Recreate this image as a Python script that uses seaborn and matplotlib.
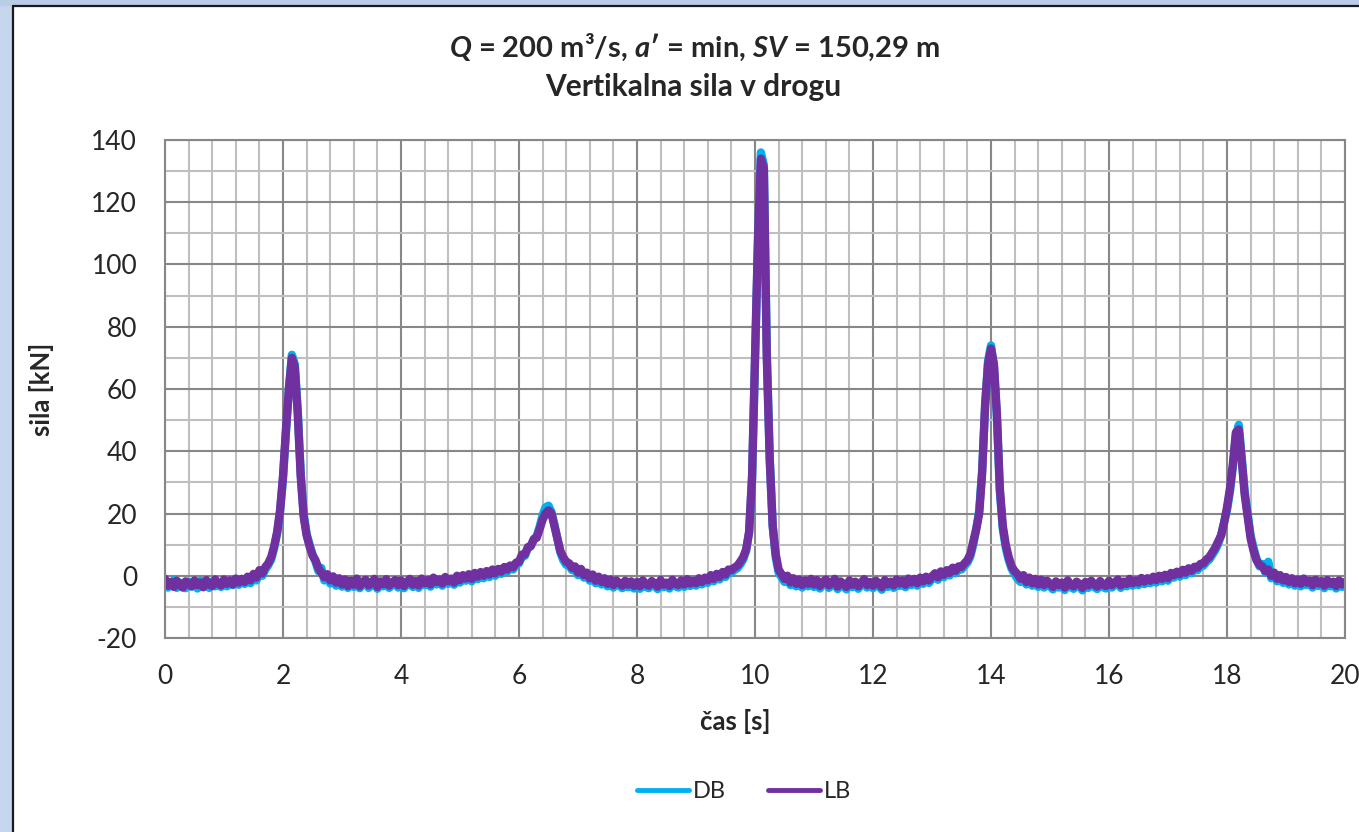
# Vertikalna sila v drogu - DB in LB

import numpy as np
import pandas as pd
import seaborn as sns
import matplotlib.pyplot as plt
from matplotlib.patches import Rectangle
from matplotlib.lines import Line2D
from matplotlib.ticker import MultipleLocator

# čas vzorčenja (0.05 s)
cas = np.linspace(0, 20, 401)

# sila LB [kN], odčitano po 1 s na vrstico
sila_lb = [
    -1.0, -3.2, -2.0, -3.6, -1.6, -2.9, -3.8, -1.8, -2.6, -3.4, -1.5, -3.0, -2.2, -3.7, -1.4, -2.8, -3.3, -1.2, -2.5, -3.1,
    -1.2, -2.6, -1.5, -2.8, -0.9, -2.2, -1.0, -2.0, -0.3, -1.5, 0.6, -0.6, 1.8, 0.8, 2.8, 4.0, 6.0, 9.5, 14.0, 21.0,
    32.0, 47.0, 60.0, 70.0, 67.0, 52.0, 32.0, 19.0, 13.0, 9.5, 6.5, 5.0, 2.5, 1.0, -0.5, 0.5, -1.5, -0.2, -2.2, -0.8,
    -2.8, -1.2, -3.3, -1.6, -2.9, -0.9, -3.4, -2.0, -1.3, -3.1, -2.4, -1.0, -3.6, -1.8, -2.7, -1.1, -3.2, -2.3, -1.4, -3.0,
    -1.5, -3.3, -2.0, -1.0, -2.9, -1.7, -3.1, -0.9, -2.4, -1.4, -2.8, -0.6, -2.0, -1.2, -2.5, -0.4, -1.8, -0.9, -2.2, 0.0,
    -1.4, 0.2, -0.9, 0.5, -1.0, 0.9, -0.3, 1.2, 0.0, 1.5, 0.4, 2.0, 0.8, 2.2, 1.3, 2.8, 2.0, 3.3, 2.7, 4.2,
    4.5, 6.8, 6.9, 9.2, 9.5, 11.8, 12.2, 15.0, 18.0, 20.0, 21.0, 20.0, 16.0, 12.0, 8.0, 6.0, 4.5, 4.0, 2.5, 3.0,
    1.0, 2.2, 0.2, 1.0, -0.8, 0.4, -1.6, -0.3, -2.0, -0.8, -2.6, -1.2, -3.0, -1.5, -2.4, -3.2, -1.6, -2.9, -1.8, -3.3,
    -2.0, -3.4, -1.5, -2.8, -3.2, -1.7, -2.5, -3.5, -1.4, -2.9, -2.2, -3.3, -1.3, -2.6, -3.0, -1.5, -2.8, -1.1, -2.5, -1.6,
    -2.4, -0.8, -2.0, -0.6, -1.5, 0.2, -1.0, 0.6, -0.4, 1.2, 0.4, 2.0, 1.8, 2.6, 3.2, 4.5, 6.0, 8.5, 14.0, 32.0,
    70.0, 108.0, 134.0, 131.0, 70.0, 37.0, 16.0, 7.0, 2.0, 0.5, -1.0, 0.0, -2.2, -0.8, -2.6, -1.2, -3.0, -1.5, -2.6, -1.0,
    -2.8, -1.4, -3.3, -2.0, -1.2, -3.1, -2.4, -1.0, -3.5, -1.8, -2.7, -3.6, -1.5, -2.9, -1.9, -3.4, -2.2, -1.1, -3.0, -2.0,
    -3.2, -1.6, -2.6, -3.7, -1.4, -2.8, -1.9, -3.1, -1.2, -2.5, -1.5, -2.9, -0.9, -2.2, -1.0, -2.4, -0.6, -1.8, -0.3, -1.5,
    -0.2, 0.8, -0.5, 1.4, 0.3, 1.8, 0.9, 2.6, 1.6, 3.0, 2.8, 4.0, 5.0, 7.0, 11.0, 15.0, 20.0, 33.0, 55.0, 68.0,
    73.0, 68.0, 52.0, 28.0, 16.0, 10.0, 6.0, 3.0, 1.5, 0.5, -1.0, 0.2, -2.0, -0.6, -2.4, -1.0, -2.8, -1.3, -3.0, -1.6,
    -2.6, -3.6, -1.8, -3.0, -2.2, -3.8, -1.5, -2.9, -3.4, -1.9, -2.6, -3.9, -2.0, -3.1, -1.6, -2.8, -3.5, -1.7, -2.9, -3.3,
    -1.6, -3.0, -2.2, -1.2, -3.1, -1.9, -2.6, -1.0, -2.4, -1.5, -2.2, -0.7, -1.9, -0.8, -1.6, -0.3, -1.4, 0.0, -1.0, 0.3,
    -0.8, 0.9, 0.2, 1.3, 0.5, 1.9, 1.0, 2.4, 1.6, 2.9, 2.6, 3.8, 4.0, 5.2, 6.0, 7.5, 9.0, 11.0, 13.0, 17.0,
    22.0, 28.0, 36.0, 46.0, 47.0, 37.0, 26.0, 19.0, 12.0, 8.0, 5.0, 3.5, 3.0, 1.5, 2.0, 0.0, 1.0, -1.0, 0.2, -1.5,
    -0.4, -2.0, -0.8, -2.4, -1.2, -2.6, -0.9, -2.2, -1.6, -3.0, -1.3, -2.5, -1.7, -3.2, -1.4, -2.6, -1.9, -3.3, -1.5, -2.8,
    -2.0,
]

# sila DB [kN]
sila_db = [
    -2.0, -3.8, -2.6, -1.4, -3.9, -2.2, -3.3, -4.0, -1.9, -3.5, -2.8, -4.1, -1.6, -3.2, -2.4, -3.9, -1.9, -3.4, -2.8, -3.6,
    -1.8, -3.4, -2.2, -3.0, -1.6, -2.9, -1.4, -2.6, -0.8, -2.4, 0.0, -1.5, 0.8, 0.0, 2.0, 3.4, 5.2, 8.8, 13.5, 20.5,
    31.0, 46.0, 60.0, 71.0, 68.0, 53.0, 33.0, 20.0, 13.5, 10.0, 7.0, 4.5, 1.5, 2.5, -1.5, 0.0, -2.5, -1.0, -3.2, -1.8,
    -3.5, -1.9, -3.9, -2.4, -3.6, -1.8, -4.0, -2.7, -2.0, -3.9, -3.1, -1.7, -4.2, -2.6, -3.4, -2.0, -3.9, -3.0, -2.2, -3.8,
    -2.3, -4.0, -2.8, -1.8, -3.6, -2.5, -3.9, -1.6, -3.0, -2.2, -3.5, -1.3, -2.8, -2.0, -3.2, -1.2, -2.6, -1.6, -2.9, -0.8,
    -2.2, -0.5, -1.6, -0.2, -1.8, 0.2, -1.1, 0.5, -0.8, 0.9, -0.4, 1.3, 0.0, 1.6, 0.6, 2.2, 1.3, 2.8, 2.0, 3.6,
    4.0, 6.2, 6.4, 8.8, 9.6, 11.5, 12.8, 15.8, 19.5, 22.0, 22.5, 20.5, 16.5, 12.0, 7.5, 5.0, 3.5, 3.2, 1.8, 2.0,
    0.2, 1.5, -0.6, 0.4, -1.6, -0.4, -2.4, -1.0, -2.8, -1.6, -3.4, -2.0, -3.8, -2.3, -3.2, -4.0, -2.4, -3.7, -2.6, -4.1,
    -2.8, -4.2, -2.3, -3.6, -4.0, -2.5, -3.3, -4.3, -2.2, -3.7, -3.0, -4.1, -2.1, -3.4, -3.8, -2.3, -3.6, -1.9, -3.3, -2.4,
    -3.2, -1.6, -2.8, -1.4, -2.3, -0.6, -1.8, -0.2, -1.2, 0.4, -0.4, 1.2, 1.0, 1.8, 2.4, 3.6, 5.2, 8.0, 14.0, 31.0,
    68.0, 106.0, 136.0, 132.0, 72.0, 38.0, 16.0, 6.0, 1.0, -0.5, -2.0, -0.8, -3.0, -1.6, -3.4, -2.0, -3.8, -2.3, -3.4, -1.8,
    -3.6, -2.2, -4.1, -2.8, -2.0, -3.9, -3.2, -1.8, -4.3, -2.6, -3.5, -4.4, -2.3, -3.7, -2.7, -4.2, -3.0, -1.9, -3.8, -2.8,
    -4.0, -2.4, -3.4, -4.5, -2.2, -3.6, -2.7, -3.9, -2.0, -3.3, -2.3, -3.7, -1.7, -3.0, -1.8, -3.2, -1.4, -2.6, -1.1, -2.3,
    -1.0, 0.0, -1.3, 0.6, -0.5, 1.0, 0.1, 1.8, 0.8, 2.2, 2.0, 3.2, 4.2, 6.2, 10.0, 15.0, 21.0, 34.0, 54.0, 69.0,
    74.0, 67.0, 51.0, 27.0, 15.0, 9.0, 5.0, 2.2, 0.5, -1.0, -2.0, -0.6, -2.8, -1.4, -3.2, -1.8, -3.6, -2.1, -3.8, -2.4,
    -3.4, -4.4, -2.6, -3.8, -3.0, -4.6, -2.3, -3.7, -4.2, -2.7, -3.4, -4.7, -2.8, -3.9, -2.4, -3.6, -4.3, -2.5, -3.7, -4.1,
    -2.4, -3.8, -3.0, -2.0, -3.9, -2.7, -3.4, -1.8, -3.2, -2.3, -3.0, -1.5, -2.7, -1.6, -2.4, -1.1, -2.2, -0.8, -1.8, -0.5,
    -1.6, 0.1, -0.6, 0.5, -0.3, 1.1, 0.2, 1.6, 0.8, 2.1, 1.8, 3.0, 3.2, 4.4, 5.2, 6.7, 8.2, 10.2, 13.0, 17.0,
    21.0, 27.0, 35.0, 45.0, 48.5, 38.0, 27.0, 20.0, 13.0, 9.0, 5.5, 3.0, 3.8, 1.0, 4.5, -0.8, 0.5, -1.8, -0.6, -2.3,
    -1.2, -2.8, -1.6, -3.2, -2.0, -3.4, -1.7, -3.0, -2.4, -3.8, -2.1, -3.3, -2.5, -4.0, -2.2, -3.4, -2.7, -4.1, -2.3, -3.6,
    -2.8,
]

serije = ["DB", "LB"]
barve = {"DB": "#00b0f0", "LB": "#7030a0"}

df = pd.DataFrame({
    "cas": np.concatenate([cas, cas]),
    "sila": sila_db + sila_lb,
    "serija": ["DB"] * len(cas) + ["LB"] * len(cas),
})

sns.set_style("white")
plt.rcParams["font.family"] = ["Lato", "DejaVu Sans"]
plt.rcParams["mathtext.fontset"] = "custom"
plt.rcParams["mathtext.it"] = "Lato:italic:bold"
plt.rcParams["mathtext.rm"] = "Lato:bold"
plt.rcParams["axes.unicode_minus"] = False

W, H = 1359, 832
fig = plt.figure(figsize=(W / 100, H / 100), dpi=100)
fig.patch.set_facecolor("white")

# modri okvir (levo in zgoraj)
fig.patches.append(Rectangle((0, 0), 12 / W, 1, transform=fig.transFigure, color="#c6d6ed", zorder=0))
fig.patches.append(Rectangle((0, 1 - 5 / H), 1, 5 / H, transform=fig.transFigure, color="#b9cde5", zorder=0))
fig.lines.append(Line2D([12.5 / W, 12.5 / W], [0, 1 - 5.5 / H], transform=fig.transFigure, color="#1a1a1a", lw=1.6))
fig.lines.append(Line2D([12.5 / W, 1], [1 - 5.5 / H, 1 - 5.5 / H], transform=fig.transFigure, color="#1a1a1a", lw=1.6))

ax = fig.add_axes([165 / W, 1 - 638 / H, 1180 / W, 498 / H])
sns.lineplot(data=df, x="cas", y="sila", hue="serija", hue_order=serije, palette=barve,
             linewidth=6.0, sort=False, estimator=None, legend=False, ax=ax)

ax.set_xlim(0, 20)
ax.set_ylim(-20, 140)
ax.xaxis.set_major_locator(MultipleLocator(2))
ax.xaxis.set_minor_locator(MultipleLocator(0.4))
ax.yaxis.set_major_locator(MultipleLocator(20))
ax.yaxis.set_minor_locator(MultipleLocator(10))
ax.grid(True, which="major", color="#878787", lw=1.5)
ax.grid(True, which="minor", color="#bfbfbf", lw=1.5)
ax.set_axisbelow(True)
for s in ax.spines.values():
    s.set_color("#878787")
    s.set_linewidth(1.5)

ax.tick_params(axis="y", which="major", length=7, width=1.5, color="#878787", pad=13, labelsize=19)
ax.tick_params(axis="x", which="major", length=0, pad=19, labelsize=19)
ax.tick_params(which="minor", length=0)
ax.set_xlabel("")
ax.set_ylabel("")

# naslov in osi
fig.text(695 / W, 1 - 47 / H,
         r"$\mathit{Q}$ = 200 m³/s, $\mathit{a}$′ = min, $\mathit{SV}$ = 150,29 m",
         ha="center", va="center", fontsize=21, fontweight="bold")
fig.text(693 / W, 1 - 87 / H, "Vertikalna sila v drogu",
         ha="center", va="center", fontsize=21.5, fontweight="bold")
fig.text(735 / W, 1 - 722 / H, "čas [s]", ha="center", va="center", fontsize=18.5, fontweight="bold")
fig.text(42 / W, 1 - 389 / H, "sila [kN]", ha="center", va="center", rotation=90,
         fontsize=18.5, fontweight="bold")

# legenda
ročaji = [Line2D([], [], color=barve[s], lw=3.5, solid_capstyle="round") for s in serije]
fig.legend(ročaji, serije, loc="center", bbox_to_anchor=(744 / W, 1 - 792 / H), ncol=2,
           frameon=False, fontsize=17, handlelength=2.2, handletextpad=0.15, columnspacing=1.8)

fig.savefig("out.png", dpi=100)
